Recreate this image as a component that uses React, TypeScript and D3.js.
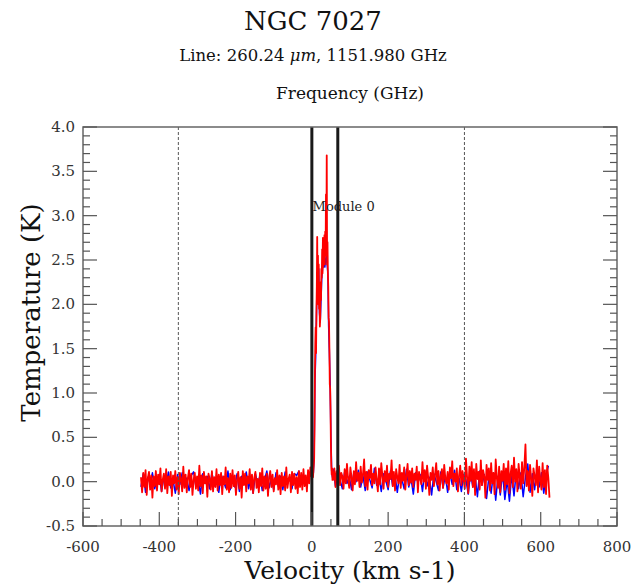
import React from "react";
import * as d3 from "d3";

// ---------- data ----------
const title = "NGC 7027";
const subtitlePre = "Line: 260.24 ";
const subtitleUnit = "\u03bcm";
const subtitlePost = ", 1151.980 GHz";
const topLabel = "Frequency (GHz)";
const xLabel = "Velocity (km s-1)";
const yLabel = "Temperature (K)";
const moduleLabel = "Module 0";

const xTicks = [-600, -400, -200, 0, 200, 400, 600, 800];
const yTicks = [-0.5, 0.0, 0.5, 1.0, 1.5, 2.0, 2.5, 3.0, 3.5, 4.0];
const dashedLines = [-350, 400];
const windowLines = [0, 68];
const moduleLabelPos = [2, 3.05];

// red spectrum, three channel blocks (start km/s, step km/s, temperatures K)
const redLeftStart = -448;
const redLeftStep = 3;
const redLeftTemp = [
  0.05,-0.12,0.10,-0.06,0.13,-0.15,0.04,0.11,-0.09,0.07,
  -0.18,0.06,-0.05,0.12,-0.10,0.08,-0.03,0.15,-0.11,0.02,
  0.09,-0.08,0.14,-0.13,0.06,-0.04,0.11,-0.16,0.07,-0.02,
  0.12,-0.09,0.05,-0.14,0.10,0.03,-0.11,0.17,-0.07,0.08,
  -0.12,0.04,0.13,-0.06,0.09,-0.15,0.02,0.10,-0.08,0.06,
  -0.10,0.18,-0.05,0.07,-0.13,0.11,-0.02,0.06,-0.17,0.09,
  0.03,-0.09,0.12,-0.11,0.05,-0.06,0.14,-0.10,0.08,-0.04,
  0.10,-0.14,0.06,-0.03,0.16,-0.09,0.04,-0.12,0.09,-0.07,
  0.13,-0.05,0.07,-0.15,0.02,0.11,-0.08,0.05,-0.18,0.12,
  -0.04,0.09,-0.11,0.06,-0.02,0.14,-0.09,0.08,-0.13,0.04,
  0.11,-0.07,0.03,-0.12,0.10,-0.05,0.15,-0.10,0.06,-0.08,
  0.09,-0.16,0.05,0.12,-0.06,0.08,-0.11,0.04,-0.03,0.13,
  -0.09,0.07,-0.14,0.10,-0.05,0.06,-0.10,0.16,-0.07,0.03,
  0.08,-0.12,0.11,-0.04,0.09,-0.08,0.05,-0.13,0.12,-0.06,
  0.10,-0.09,0.14,-0.05,0.07,-0.11,0.13,-0.02,0.16,0.06,
];
const redLineStart = 2;
const redLineStep = 1;
const redLineTemp = [
  0.10,0.05,0.12,0.18,0.25,0.60,1.20,1.55,1.74,1.45,
  1.90,2.20,2.76,2.15,2.55,2.00,2.45,1.95,2.10,1.75,
  1.85,2.25,2.05,2.40,2.30,2.62,2.35,2.75,2.42,2.70,
  2.50,2.78,2.45,2.82,2.55,3.24,2.60,3.68,2.45,2.70,
  2.35,2.20,1.85,1.80,1.50,1.10,1.05,0.80,0.40,0.18,
  0.08,0.15,0.02,
];
const redRightStart = 56;
const redRightStep = 3;
const redRightTemp = [
  0.02,0.15,-0.06,0.12,0.00,0.18,-0.04,0.10,0.06,-0.08,
  0.14,-0.02,0.20,0.03,-0.07,0.16,0.05,-0.10,0.12,-0.03,
  0.22,0.01,0.10,-0.06,0.17,-0.01,0.08,0.25,-0.05,0.11,
  -0.09,0.13,0.04,0.19,-0.04,0.09,-0.02,0.16,0.02,-0.11,
  0.15,-0.03,0.21,0.06,-0.08,0.12,0.00,0.18,-0.06,0.09,
  0.03,0.24,-0.05,0.11,-0.10,0.14,0.05,-0.02,0.19,-0.07,
  0.10,0.01,0.16,-0.09,0.07,0.20,-0.04,0.12,-0.01,0.15,
  -0.06,0.09,0.02,0.17,-0.12,0.11,0.04,-0.03,0.22,0.00,
  0.13,-0.08,0.18,0.05,-0.15,0.10,0.02,0.16,-0.05,0.08,
  0.21,-0.03,0.12,-0.10,0.06,0.14,-0.07,0.19,0.03,-0.02,
  0.11,-0.09,0.16,0.04,0.23,-0.05,0.09,0.00,0.15,-0.11,
  0.07,0.18,-0.04,0.12,0.02,-0.08,0.26,0.05,-0.13,0.17,
  0.01,0.22,-0.06,0.14,-0.15,0.20,0.03,0.11,-0.09,0.24,
  -0.04,0.13,0.06,-0.18,0.19,0.02,0.15,-0.10,0.21,-0.02,
  0.10,-0.14,0.25,0.04,-0.07,0.17,-0.12,0.12,0.01,0.20,
  -0.09,0.15,-0.03,0.23,-0.13,0.09,0.18,-0.06,0.27,0.00,
  0.14,-0.11,0.20,0.05,-0.08,0.22,-0.02,0.16,0.42,-0.05,
  0.12,-0.10,0.19,0.03,-0.16,0.15,0.06,-0.04,0.24,-0.12,
  0.17,0.02,-0.09,0.21,-0.06,0.13,-0.14,0.18,0.04,-0.18,
];

// blue spectrum, three channel blocks
const blueLeftStart = -448;
const blueLeftStep = 6;
const blueLeftTemp = [
  -0.06,0.09,-0.12,0.05,-0.02,0.10,-0.08,0.03,0.08,-0.11,
  0.05,-0.04,0.11,-0.07,0.02,-0.13,0.08,-0.03,0.10,-0.06,
  0.04,-0.10,0.07,0.11,-0.05,0.02,-0.14,0.09,-0.02,0.06,
  -0.08,0.10,-0.04,0.05,-0.12,0.08,0.01,-0.07,0.12,-0.09,
  0.03,-0.06,0.09,-0.11,0.06,-0.02,0.11,-0.08,0.04,-0.13,
  0.09,-0.03,0.07,-0.10,0.02,0.12,-0.07,0.04,-0.09,0.10,
  -0.05,0.06,-0.09,0.11,-0.03,0.05,-0.08,0.09,0.07,0.12,
  -0.03,0.08,-0.02,0.07,0.11,
];
const blueLineStart = 0;
const blueLineStep = 2;
const blueLineTemp = [
  0.05,0.12,0.10,0.30,1.14,1.40,1.85,2.35,2.15,2.40,
  1.90,1.80,2.05,2.30,2.40,2.45,2.48,2.42,2.50,2.55,
  2.45,2.35,1.75,1.45,1.10,0.50,0.12,0.05,
];
const blueRightStart = 56;
const blueRightStep = 6;
const blueRightTemp = [
  0.14,-0.05,0.08,0.02,-0.08,0.11,-0.02,0.06,-0.09,0.10,
  0.00,0.13,-0.06,0.07,-0.10,0.11,0.02,-0.07,0.15,-0.04,
  0.06,-0.11,0.09,0.01,-0.09,0.12,-0.05,0.07,-0.12,0.08,
  0.03,-0.08,0.14,-0.06,0.04,-0.14,0.10,-0.01,0.08,-0.11,
  0.12,-0.05,0.05,-0.15,0.09,0.00,-0.10,0.11,-0.07,0.07,
  -0.12,0.09,-0.03,0.13,-0.09,0.04,-0.11,0.08,0.02,-0.14,
  0.10,-0.06,0.07,-0.17,0.12,-0.04,0.08,-0.19,0.05,-0.13,
  0.10,-0.21,0.06,-0.15,0.11,-0.20,0.02,-0.22,0.08,-0.16,
  0.13,-0.08,0.10,-0.17,0.05,0.20,-0.12,0.09,-0.09,0.12,
  -0.06,0.10,-0.13,0.07,0.18,
];

// ---------- layout ----------
const W = 633;
const H = 585;
const M = { left: 83, top: 127, right: 617, bottom: 526 };
const FONT = "'DejaVu Serif', serif";

type P = [number, number];
const block = (start: number, step: number, temps: number[]): P[] =>
  temps.map((t, i) => [start + i * step, t] as P);

export default function App() {
  const x = d3.scaleLinear().domain([-600, 800]).range([M.left, M.right]);
  const y = d3.scaleLinear().domain([-0.5, 4.0]).range([M.bottom, M.top]);

  const redPts: P[] = [
    ...block(redLeftStart, redLeftStep, redLeftTemp),
    ...block(redLineStart, redLineStep, redLineTemp),
    ...block(redRightStart, redRightStep, redRightTemp),
  ];
  const bluePts: P[] = [
    ...block(blueLeftStart, blueLeftStep, blueLeftTemp),
    ...block(blueLineStart, blueLineStep, blueLineTemp),
    ...block(blueRightStart, blueRightStep, blueRightTemp),
  ];
  const line = d3
    .line<P>()
    .x((d) => x(d[0]))
    .y((d) => y(d[1]));

  const xMinor = d3.range(-600, 801, 50);
  const yMinor = d3.range(-5, 41, 1).map((v) => v / 10);
  const axisColor = "#666";
  const tickColor = "#555";

  return (
    <div style={{ position: "absolute", left: 0, top: 0 }}>
      <svg width={W} height={H} style={{ display: "block", background: "#fff" }}>
        {/* titles */}
        <text x={313} y={30} textAnchor="middle" fontFamily={FONT} fontSize={26} fill="#111">
          {title}
        </text>
        <text x={313} y={61} textAnchor="middle" fontFamily={FONT} fontSize={16.5} fill="#111">
          {subtitlePre}
          <tspan fontStyle="italic">{subtitleUnit}</tspan>
          {subtitlePost}
        </text>
        <text x={(M.left + M.right) / 2} y={99} textAnchor="middle" fontFamily={FONT} fontSize={17} fill="#111">
          {topLabel}
        </text>

        {/* spectra */}
        <path d={line(bluePts) || ""} fill="none" stroke="#0000ff" strokeWidth={1.5} strokeLinejoin="round" />
        <path d={line(redPts) || ""} fill="none" stroke="#ff0000" strokeWidth={1.8} strokeLinejoin="round" />

        {/* dashed lines */}
        {dashedLines.map((v) => (
          <line key={v} x1={x(v)} x2={x(v)} y1={M.top} y2={M.bottom} stroke="#555" strokeWidth={1} strokeDasharray="3,2" />
        ))}
        {/* window lines */}
        {windowLines.map((v) => (
          <line key={v} x1={x(v)} x2={x(v)} y1={M.top} y2={M.bottom} stroke="#1a1a1a" strokeWidth={3} />
        ))}
        <text x={x(moduleLabelPos[0])} y={y(moduleLabelPos[1])} fontFamily={FONT} fontSize={13} fill="#222">
          {moduleLabel}
        </text>

        {/* frame */}
        <rect x={M.left} y={M.top} width={M.right - M.left} height={M.bottom - M.top} fill="none" stroke={axisColor} strokeWidth={1.5} />

        {/* x ticks */}
        {xMinor.map((v) => {
          const major = v % 200 === 0;
          return (
            <line key={"xt" + v} x1={x(v)} x2={x(v)} y1={M.bottom} y2={M.bottom - (major ? 14 : 7)} stroke={tickColor} strokeWidth={1.2} />
          );
        })}
        {xTicks.map((v) => (
          <text key={"xl" + v} x={x(v)} y={M.bottom + 26} textAnchor="middle" fontFamily={FONT} fontSize={15} fill="#333">
            {v}
          </text>
        ))}

        {/* y ticks */}
        {yMinor.map((v, i) => {
          const major = i % 5 === 0;
          const len = major ? 14 : 7;
          return (
            <g key={"yt" + i}>
              <line x1={M.left} x2={M.left + len} y1={y(v)} y2={y(v)} stroke={tickColor} strokeWidth={1.2} />
              <line x1={M.right} x2={M.right - len} y1={y(v)} y2={y(v)} stroke={tickColor} strokeWidth={1.2} />
            </g>
          );
        })}
        {yTicks.map((v) => (
          <text key={"yl" + v} x={M.left - 8} y={y(v) + 5} textAnchor="end" fontFamily={FONT} fontSize={15} fill="#333">
            {v.toFixed(1)}
          </text>
        ))}

        {/* axis labels */}
        <text x={(M.left + M.right) / 2} y={579} textAnchor="middle" fontFamily={FONT} fontSize={25} fill="#111">
          {xLabel}
        </text>
        <text
          transform={`translate(40, ${(M.top + M.bottom) / 2 - 14}) rotate(-90)`}
          textAnchor="middle"
          fontFamily={FONT}
          fontSize={26}
          fill="#111"
        >
          {yLabel}
        </text>
      </svg>
    </div>
  );
}
